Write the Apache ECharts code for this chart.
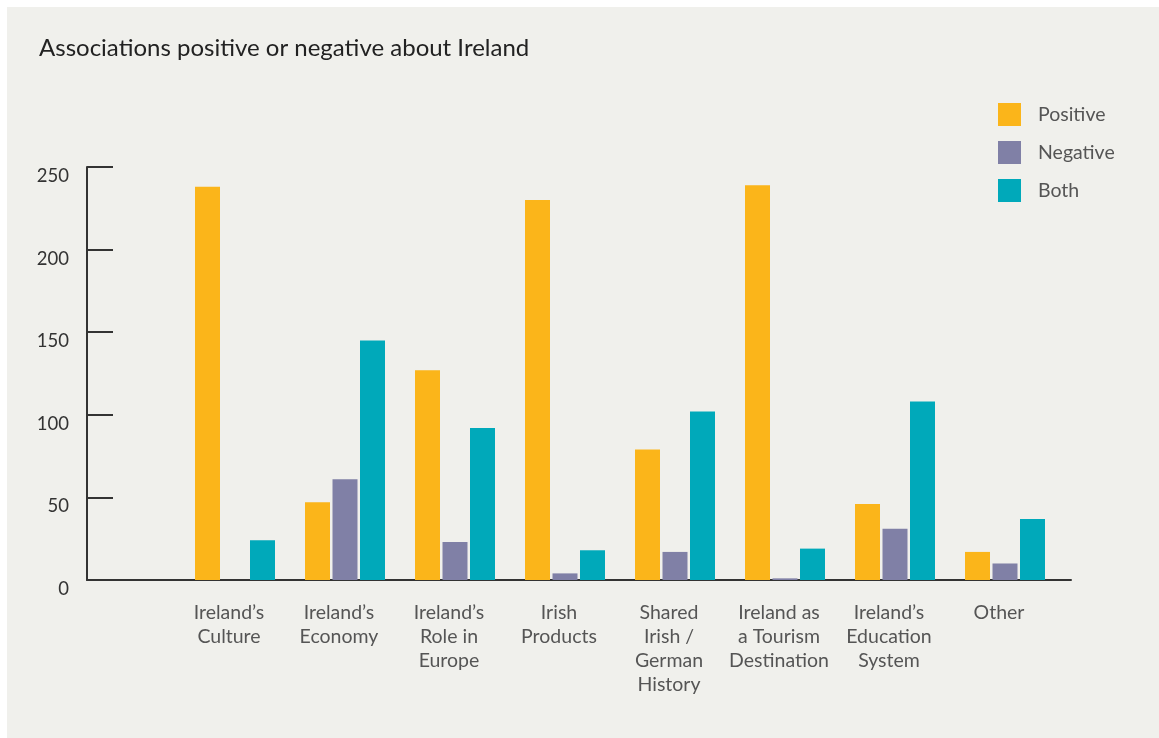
<!DOCTYPE html>
<html>
<head>
<meta charset="utf-8">
<script src="https://cdn.jsdelivr.net/npm/echarts@6/dist/echarts.min.js"></script>
<style>
  html, body { margin:0; padding:0; background:#ffffff; }
  #panel { position:absolute; left:7px; top:7px; width:1152px; height:731px; background:#f0f0ec; }
  #chart { position:absolute; left:0; top:0; width:1159px; height:738px; }
</style>
</head>
<body>
<div id="panel"></div>
<div id="chart"></div>
<script>
const categories = [
  "Ireland\u2019s\nCulture",
  "Ireland\u2019s\nEconomy",
  "Ireland\u2019s\nRole in\nEurope",
  "Irish\nProducts",
  "Shared\nIrish /\nGerman\nHistory",
  "Ireland as\na Tourism\nDestination",
  "Ireland\u2019s\nEducation\nSystem",
  "Other"
];
const positive = [238, 47, 127, 230, 79, 239, 46, 17];
const negative = [0, 61, 23, 4, 17, 1, 31, 10];
const both     = [24, 145, 92, 18, 102, 19, 108, 37];
const yTicks = [0, 50, 100, 150, 200, 250];

const FONT = 'Lato, "Open Sans", sans-serif';
const chart = echarts.init(document.getElementById('chart'), null, {renderer:'canvas'});
const option = {
  backgroundColor: 'transparent',
  animation: false,
  title: {
    text: 'Associations positive or negative about Ireland',
    left: 39, top: 36, padding: 0,
    textStyle: { fontFamily: FONT, fontSize: 24, fontWeight: 'normal', color: '#222222' }
  },
  legend: {
    orient: 'vertical', left: 998, top: 103, padding: 0,
    itemWidth: 23, itemHeight: 23, itemGap: 15, icon: 'rect',
    textStyle: { fontFamily: FONT, fontSize: 19.5, color: '#555555', padding: [0,0,0,12] },
    data: ['Positive', 'Negative', 'Both']
  },
  grid: [
    { left: 87, right: 88, top: 167, bottom: 158 },
    { left: 180, right: 99, top: 167, bottom: 158 }
  ],
  xAxis: [
    { type: 'category', gridIndex: 0, data: [''], boundaryGap: false,
      axisLine: { show: true, lineStyle: { color: '#333333', width: 2 } },
      axisTick: { show: false }, axisLabel: { show: false }, splitLine: { show: false } },
    { type: 'category', gridIndex: 1, data: categories,
      axisLine: { show: false }, axisTick: { show: false },
      axisLabel: { interval: 0, margin: 21, fontFamily: FONT, fontSize: 19.5, lineHeight: 24,
        color: '#555555', align: 'center', padding: [0, 12, 0, 0] } }
  ],
  yAxis: [
    { type: 'value', gridIndex: 0, min: 0, max: 250, interval: 50,
      axisLine: { show: true, lineStyle: { color: '#333333', width: 2 } },
      axisTick: { show: true, inside: true, length: 26, lineStyle: { color: '#333333', width: 2 } },
      splitLine: { show: false },
      axisLabel: { margin: 18, fontFamily: FONT, fontSize: 18.5, color: '#333333',
        verticalAlign: 'top', lineHeight: 18,
        formatter: v => yTicks.includes(v) ? String(v) : '' } },
    { type: 'value', gridIndex: 1, min: 0, max: 250, interval: 50, show: false }
  ],
  series: [
    { name: 'Positive', type: 'bar', xAxisIndex: 1, yAxisIndex: 1, data: positive,
      barWidth: 25, barGap: '10%', itemStyle: { color: '#fbb51a' }, z: 5 },
    { name: 'Negative', type: 'bar', xAxisIndex: 1, yAxisIndex: 1, data: negative,
      barWidth: 25, barGap: '10%', itemStyle: { color: '#8080a6' }, z: 5 },
    { name: 'Both', type: 'bar', xAxisIndex: 1, yAxisIndex: 1, data: both,
      barWidth: 25, barGap: '10%', itemStyle: { color: '#00a9ba' }, z: 5 }
  ]
};
chart.setOption(option);
</script>
</body>
</html>
